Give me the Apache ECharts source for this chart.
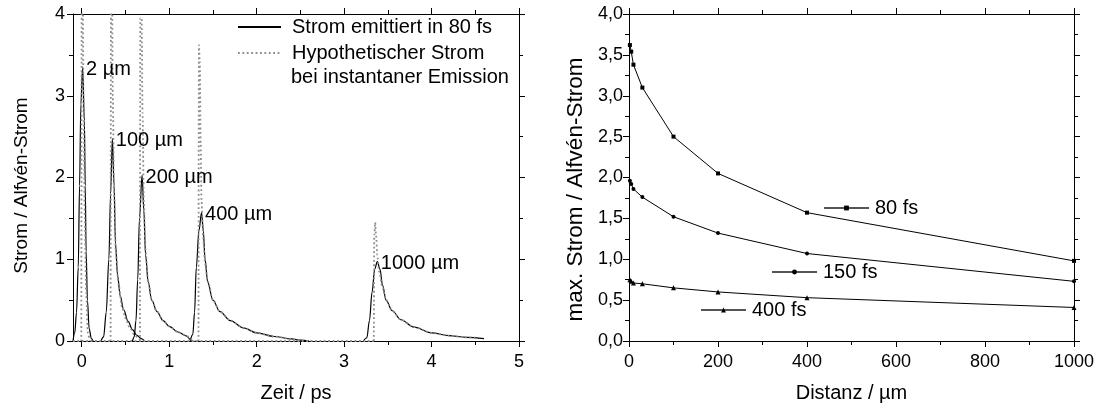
<!DOCTYPE html>
<html>
<head>
<meta charset="utf-8">
<script src="https://cdn.jsdelivr.net/npm/echarts@6/dist/echarts.min.js"></script>
<style>html,body{margin:0;padding:0;background:#fff;}#c{width:1103px;height:408px;}</style>
</head>
<body>
<div id="c"></div>
<script>
// ---------- Left panel data (Zeit / ps, Strom / Alfvén-Strom) ----------
const timeMajorTicks = [0, 1, 2, 3, 4, 5];
const timeMinorTicks = [0.5, 1.5, 2.5, 3.5, 4.5];
const peakLabels = ['2 µm', '100 µm', '200 µm', '400 µm', '1000 µm'];

const solid2 = [[-0.1,0],[-0.08,0.1],[-0.06,0.35],[-0.04,0.9],[-0.025,1.9],[-0.01,2.9],[0.01,3.35],[0.03,2.7],[0.04,1.9],[0.05,1.1],[0.065,0.5],[0.085,0.15],[0.11,0.03],[0.13,0]];
const solid100 = [[0.22,0],[0.25,0.05],[0.28,0.35],[0.31,1.0],[0.33,1.8],[0.35,2.48],[0.37,1.9],[0.385,1.2],[0.41,0.8],[0.44,0.55],[0.48,0.38],[0.53,0.24],[0.58,0.14],[0.63,0.07],[0.68,0.03],[0.72,0]];
const solid200 = [[0.58,0],[0.6,0.05],[0.62,0.25],[0.64,0.75],[0.66,1.5],[0.69,2.03],[0.71,1.6],[0.73,1.05],[0.76,0.72],[0.8,0.5],[0.86,0.36],[0.93,0.25],[1.0,0.18],[1.1,0.11],[1.2,0.06],[1.24,0.02],[1.27,0]];
const solid400 = [[1.24,0],[1.27,0.08],[1.29,0.35],[1.31,0.9],[1.34,1.35],[1.37,1.57],[1.39,1.35],[1.41,1.0],[1.44,0.72],[1.5,0.5],[1.58,0.36],[1.7,0.25],[1.85,0.16],[2.0,0.1],[2.2,0.055],[2.4,0.025],[2.5,0.01],[2.6,0]];
const solid1000 = [[3.22,0],[3.26,0.04],[3.29,0.25],[3.32,0.6],[3.35,0.88],[3.38,0.97],[3.41,0.88],[3.44,0.68],[3.48,0.5],[3.55,0.37],[3.65,0.26],[3.8,0.17],[4.0,0.1],[4.2,0.065],[4.4,0.045],[4.6,0.03]];

const dotted2 = [[-0.005,0],[0.0,4.6],[0.01,4.6],[0.02,3.0],[0.035,1.5],[0.05,0.6],[0.07,0.1],[0.09,0]];
const dotted100 = [[0.33,0],[0.335,4.6],[0.345,4.6],[0.355,3.0],[0.37,1.8],[0.39,1.1],[0.42,0.7],[0.46,0.42],[0.5,0.28],[0.55,0.16],[0.6,0.08],[0.66,0.02],[0.7,0]];
const dotted200 = [[0.665,0],[0.67,3.95],[0.685,3.95],[0.695,2.8],[0.71,1.7],[0.73,1.1],[0.76,0.72],[0.8,0.5],[0.86,0.36],[0.93,0.25],[1.0,0.18],[1.1,0.11],[1.2,0.06],[1.25,0.02],[1.3,0]];
const dotted400 = [[1.335,0],[1.34,3.62],[1.35,3.4],[1.36,2.4],[1.37,1.7],[1.39,1.25],[1.41,0.95],[1.44,0.73],[1.5,0.5],[1.58,0.36],[1.7,0.25],[1.85,0.16],[2.0,0.1],[2.2,0.055],[2.4,0.025],[2.5,0]];
const dotted1000 = [[3.34,0],[3.345,1.3],[3.355,1.45],[3.365,1.3],[3.38,1.05],[3.4,0.85],[3.44,0.65],[3.48,0.5],[3.55,0.37],[3.65,0.26],[3.8,0.17],[4.0,0.1],[4.2,0.065],[4.4,0.045],[4.5,0.04]];
const dottedBaseline = [[-0.1,0],[3.34,0]];

// ---------- Right panel data (Distanz / µm, max. Strom / Alfvén-Strom) ----------
const distances = [2, 5, 10, 30, 100, 200, 400, 1000];
const max80fs  = [3.62, 3.54, 3.38, 3.10, 2.50, 2.05, 1.57, 0.98];
const max150fs = [1.96, 1.92, 1.86, 1.76, 1.52, 1.32, 1.07, 0.73];
const max400fs = [0.75, 0.73, 0.71, 0.70, 0.65, 0.60, 0.53, 0.41];

const FONT = 'Liberation Sans, Arial, Helvetica, sans-serif';
const BLACK = '#000';
const GRAY = '#8c8c8c';
const DOT = { color: GRAY, width: 1.8, type: [1.8, 2.6] };

const solidName = 'Strom emittiert in 80 fs';
const dottedName = 'Hypothetischer Strom';

const solids = [solid2, solid100, solid200, solid400, solid1000];
const dotteds = [dotted2, dotted100, dotted200, dotted400, dotted1000];

function peakOf(arr) {
  let best = arr[0];
  arr.forEach(p => { if (p[1] > best[1]) best = p; });
  return best;
}
const peakData = solids.map((s, i) => ({ value: peakOf(s), label: { formatter: peakLabels[i] } }));

const series = [];
series.push({
  name: dottedName, type: 'line', xAxisIndex: 0, yAxisIndex: 0, data: dottedBaseline,
  symbol: 'none', lineStyle: DOT, itemStyle: { color: GRAY }, z: 3, silent: true
});
solids.forEach(s => series.push({
  name: solidName, type: 'line', xAxisIndex: 0, yAxisIndex: 0, data: s,
  symbol: 'none', smooth: 0.35, smoothMonotone: 'x',
  lineStyle: { color: BLACK, width: 1.2 }, itemStyle: { color: BLACK }, z: 2, silent: true
}));
dotteds.forEach(s => series.push({
  name: dottedName, type: 'line', xAxisIndex: 0, yAxisIndex: 0, data: s,
  symbol: 'none', smooth: 0.3, smoothMonotone: 'x',
  lineStyle: DOT, itemStyle: { color: GRAY }, z: 3, silent: true
}));
series.push({
  name: 'peaks', type: 'scatter', xAxisIndex: 0, yAxisIndex: 0, data: peakData,
  symbol: 'circle', symbolSize: 1, itemStyle: { color: 'rgba(0,0,0,0)' }, z: 5, silent: true,
  label: { show: true, position: 'right', distance: 3, fontSize: 20, fontFamily: FONT,
           color: '#000', opacity: 1, textBorderWidth: 0, offset: [0, 2] }
});

function rightSeries(name, vals, sym, size) {
  return {
    name, type: 'line', xAxisIndex: 4, yAxisIndex: 2,
    data: distances.map((d, i) => [d, vals[i]]),
    symbol: sym, symbolSize: size, showAllSymbol: true,
    lineStyle: { color: BLACK, width: 1 }, itemStyle: { color: BLACK }, silent: true
  };
}
series.push(rightSeries('80 fs', max80fs, 'rect', 4));
series.push(rightSeries('150 fs', max150fs, 'circle', 4));
series.push(rightSeries('400 fs', max400fs, 'triangle', 5));

const tickLine = { color: BLACK, width: 1 };
const labelStyle = { fontSize: 18, fontFamily: FONT, color: BLACK };

function commaFmt(v) { return v.toFixed(1).replace('.', ','); }

function smallLegend(name, left, top) {
  return { data: [name], left, top, itemWidth: 45, itemHeight: 6, padding: 0, selectedMode: false,
    lineStyle: { color: '#555' },
    textStyle: { fontSize: 20, fontFamily: FONT, color: BLACK, padding: [0, 0, 0, 1] } };
}

const option = {
  animation: false,
  backgroundColor: '#fff',
  textStyle: { fontFamily: FONT, color: BLACK },
  grid: [
    { left: 73, top: 14, width: 446, height: 327 },
    { left: 629, top: 14, width: 445, height: 327 }
  ],
  xAxis: [
    { gridIndex: 0, type: 'value', min: -0.1, max: 5, position: 'bottom',
      axisLine: { onZero: false, lineStyle: tickLine },
      axisTick: { customValues: timeMajorTicks, length: 6, lineStyle: tickLine },
      axisLabel: { customValues: timeMajorTicks, margin: 12, ...labelStyle },
      splitLine: { show: false },
      name: 'Zeit / ps', nameLocation: 'middle', nameGap: 42,
      nameTextStyle: { fontSize: 20, fontFamily: FONT, color: BLACK } },
    { gridIndex: 0, type: 'value', min: -0.1, max: 5, position: 'bottom',
      axisLine: { show: false, onZero: false },
      axisTick: { customValues: timeMinorTicks, length: 4, lineStyle: tickLine },
      axisLabel: { show: false }, splitLine: { show: false } },
    { gridIndex: 0, type: 'value', min: -0.1, max: 5, position: 'top',
      axisLine: { onZero: false, lineStyle: tickLine },
      axisTick: { customValues: timeMajorTicks, length: 6, lineStyle: tickLine },
      axisLabel: { show: false }, splitLine: { show: false } },
    { gridIndex: 0, type: 'value', min: -0.1, max: 5, position: 'top',
      axisLine: { show: false, onZero: false },
      axisTick: { customValues: timeMinorTicks, length: 4, lineStyle: tickLine },
      axisLabel: { show: false }, splitLine: { show: false } },
    { gridIndex: 1, type: 'value', min: 0, max: 1000, interval: 200, position: 'bottom',
      axisLine: { onZero: false, lineStyle: tickLine },
      axisTick: { length: 6, lineStyle: tickLine },
      minorTick: { show: true, splitNumber: 2, length: 4, lineStyle: tickLine },
      axisLabel: { margin: 12, formatter: v => String(v), ...labelStyle },
      splitLine: { show: false },
      name: 'Distanz / µm', nameLocation: 'middle', nameGap: 42,
      nameTextStyle: { fontSize: 20, fontFamily: FONT, color: BLACK } },
    { gridIndex: 1, type: 'value', min: 0, max: 1000, interval: 200, position: 'top',
      axisLine: { onZero: false, lineStyle: tickLine },
      axisTick: { length: 6, lineStyle: tickLine },
      minorTick: { show: true, splitNumber: 2, length: 4, lineStyle: tickLine },
      axisLabel: { show: false }, splitLine: { show: false } }
  ],
  yAxis: [
    { gridIndex: 0, type: 'value', min: 0, max: 4, interval: 1, position: 'left',
      axisLine: { onZero: false, lineStyle: tickLine },
      axisTick: { length: 6, lineStyle: tickLine },
      minorTick: { show: true, splitNumber: 2, length: 4, lineStyle: tickLine },
      axisLabel: { margin: 8, ...labelStyle },
      splitLine: { show: false },
      name: 'Strom / Alfvén-Strom', nameLocation: 'middle', nameGap: 42,
      nameTextStyle: { fontSize: 19, fontFamily: FONT, color: BLACK, padding: [0, 16, 0, 0] } },
    { gridIndex: 0, type: 'value', min: 0, max: 4, interval: 1, position: 'right',
      axisLine: { onZero: false, lineStyle: tickLine },
      axisTick: { length: 6, lineStyle: tickLine },
      minorTick: { show: true, splitNumber: 2, length: 4, lineStyle: tickLine },
      axisLabel: { show: false }, splitLine: { show: false } },
    { gridIndex: 1, type: 'value', min: 0, max: 4, interval: 0.5, position: 'left',
      axisLine: { onZero: false, lineStyle: tickLine },
      axisTick: { length: 6, lineStyle: tickLine },
      minorTick: { show: true, splitNumber: 2, length: 4, lineStyle: tickLine },
      axisLabel: { margin: 6, formatter: commaFmt, ...labelStyle },
      splitLine: { show: false },
      name: 'max. Strom / Alfvén-Strom', nameLocation: 'middle', nameGap: 42,
      nameTextStyle: { fontSize: 22.5, fontFamily: FONT, color: BLACK, padding: [0, 24, 0, 0] } },
    { gridIndex: 1, type: 'value', min: 0, max: 4, interval: 0.5, position: 'right',
      axisLine: { onZero: false, lineStyle: tickLine },
      axisTick: { length: 6, lineStyle: tickLine },
      minorTick: { show: true, splitNumber: 2, length: 4, lineStyle: tickLine },
      axisLabel: { show: false }, splitLine: { show: false } }
  ],
  legend: [
    { data: [solidName, dottedName], orient: 'vertical', left: 237, top: 17,
      itemWidth: 43, itemHeight: 14, itemGap: 6, padding: 0, selectedMode: false,
      itemStyle: { opacity: 0 },
      textStyle: { fontSize: 20, fontFamily: FONT, color: BLACK, padding: [0, 0, 0, 6] } },
    smallLegend('80 fs', 823, 198),
    smallLegend('150 fs', 771, 262),
    smallLegend('400 fs', 700, 300)
  ],
  graphic: [
    { type: 'text', left: 291, top: 67, silent: true,
      style: { text: 'bei instantaner Emission', fontSize: 20, fontFamily: FONT, fill: BLACK } }
  ],
  series
};

const chart = echarts.init(document.getElementById('c'), null, { renderer: 'canvas' });
chart.setOption(option);
</script>
</body>
</html>
